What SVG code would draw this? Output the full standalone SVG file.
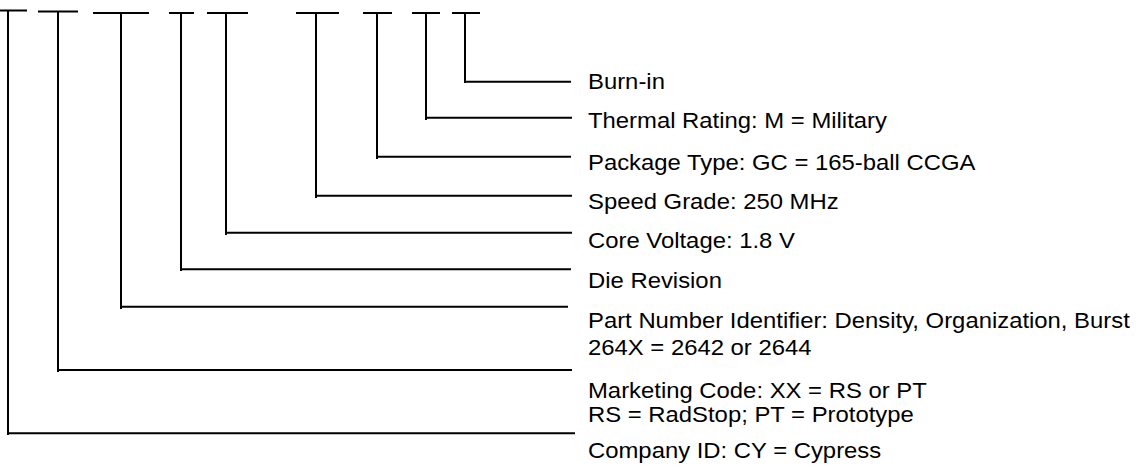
<svg xmlns="http://www.w3.org/2000/svg" width="1137" height="475" viewBox="0 0 1137 475">
<style>
.ln{fill:none;stroke:#000;stroke-width:2;stroke-linecap:butt}
.t{font-family:"Liberation Sans",Arial,sans-serif;font-size:21.5px;fill:#000}
</style>
<rect width="1137" height="475" fill="#fff"/>
<g id="connectors">
<path class="ln" d="M0 10.5H27M8 9.5V435M7 433.3H575"/>
<path class="ln" d="M38 11.5H78M58 10.5V372M57 370H572"/>
<path class="ln" d="M93 13H149M121 12V309M120 306.7H568"/>
<path class="ln" d="M169 13H194M181 12V271M180 269.3H571"/>
<path class="ln" d="M207 13H248M226 12V235M225 232.7H572"/>
<path class="ln" d="M296 13H339M316 12V198M315 195.7H572"/>
<path class="ln" d="M363 13H392M377 12V159M376 156.7H571"/>
<path class="ln" d="M412 13H440M426 12V120M425 117.7H572"/>
<path class="ln" d="M452 13H480M465 12V83M464 81.7H571"/>
</g>
<g id="burn-in"><text class="t" transform="matrix(1.11 0 0 1 588 89.3)">Burn-in</text></g>
<g id="thermal-rating"><text class="t" transform="matrix(1.11 0 0 1 588 128)">Thermal Rating: M = Military</text></g>
<g id="package-type"><text class="t" transform="matrix(1.11 0 0 1 588 169.5)">Package Type: GC = 165-ball CCGA</text></g>
<g id="speed-grade"><text class="t" transform="matrix(1.11 0 0 1 588 209.3)">Speed Grade: 250 MHz</text></g>
<g id="core-voltage"><text class="t" transform="matrix(1.11 0 0 1 588 248.3)">Core Voltage: 1.8 V</text></g>
<g id="die-revision"><text class="t" transform="matrix(1.11 0 0 1 588 287.7)">Die Revision</text></g>
<g id="part-number"><text class="t" transform="matrix(1.11 0 0 1 588 328.3)">Part Number Identifier: Density, Organization, Burst</text><text class="t" transform="matrix(1.11 0 0 1 588 355)">264X = 2642 or 2644</text></g>
<g id="marketing-code"><text class="t" transform="matrix(1.11 0 0 1 588 398.3)">Marketing Code: XX = RS or PT</text><text class="t" transform="matrix(1.11 0 0 1 588 421.7)">RS = RadStop; PT = Prototype</text></g>
<g id="company-id"><text class="t" transform="matrix(1.11 0 0 1 588 458.3)">Company ID: CY = Cypress</text></g>
</svg>
